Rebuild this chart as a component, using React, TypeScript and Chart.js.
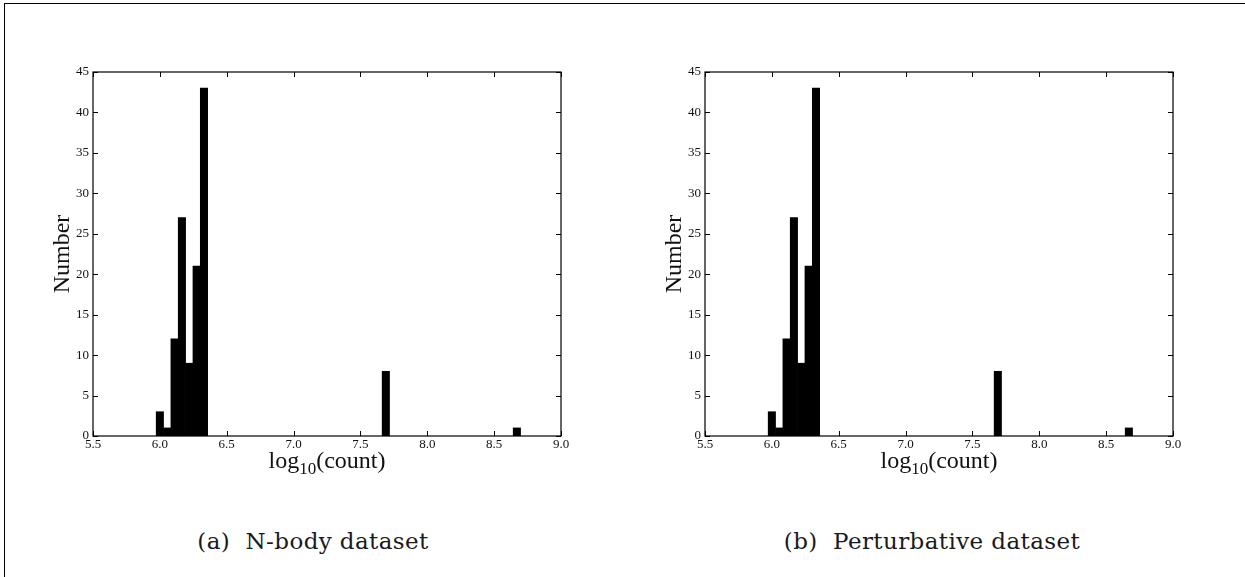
import React, { useEffect, useRef } from "react";
import { Chart, registerables } from "chart.js";

Chart.register(...registerables);

// Histogram bins (centres in log10(count)) and their counts
const binCenters = [6.0, 6.055, 6.11, 6.165, 6.22, 6.275, 6.33, 7.69, 8.67];
const nbodyCounts = [3, 1, 12, 27, 9, 21, 43, 8, 1];
const perturbativeCounts = [3, 1, 12, 27, 9, 21, 43, 8, 1];

// Axis ranges and labels
const xRange = [5.5, 9.0];
const xStep = 0.5;
const yRange = [0, 45];
const yStep = 5;
const yTitle = "Number";
const xTitleParts = ["log", "10", "(count)"];
const captions = ["(a)  N-body dataset", "(b)  Perturbative dataset"];

const SERIF = "'Liberation Serif', 'DejaVu Serif', serif";

// Draws the boxed frame, inward ticks on all four sides and the subscripted x title
const frameAndTicks = {
  id: "frameAndTicks",
  afterDatasetsDraw(chart: any) {
    const { ctx, chartArea } = chart;
    const { left, right, top, bottom } = chartArea;
    const xs = chart.scales.x;
    const ys = chart.scales.y;
    const len = 5;
    ctx.save();
    ctx.strokeStyle = "#000";
    ctx.lineWidth = 1.2;
    ctx.strokeRect(left, top, right - left, bottom - top);
    ctx.lineWidth = 1;
    ctx.beginPath();
    xs.ticks.forEach((t: any) => {
      const px = Math.round(xs.getPixelForValue(t.value)) + 0.5;
      ctx.moveTo(px, bottom);
      ctx.lineTo(px, bottom - len);
      ctx.moveTo(px, top);
      ctx.lineTo(px, top + len);
    });
    ys.ticks.forEach((t: any) => {
      const py = Math.round(ys.getPixelForValue(t.value)) + 0.5;
      ctx.moveTo(left, py);
      ctx.lineTo(left + len, py);
      ctx.moveTo(right, py);
      ctx.lineTo(right - len, py);
    });
    ctx.stroke();

    // x-axis title: log_10(count)
    const big = `24px ${SERIF}`;
    const small = `17px ${SERIF}`;
    ctx.fillStyle = "#111";
    ctx.textBaseline = "alphabetic";
    ctx.textAlign = "left";
    ctx.font = big;
    const w0 = ctx.measureText(xTitleParts[0]).width;
    const w2 = ctx.measureText(xTitleParts[2]).width;
    ctx.font = small;
    const w1 = ctx.measureText(xTitleParts[1]).width;
    const total = w0 + w1 + w2;
    let cx = (left + right) / 2 - total / 2;
    const base = bottom + 32;
    ctx.font = big;
    ctx.fillText(xTitleParts[0], cx, base);
    cx += w0;
    ctx.font = small;
    ctx.fillText(xTitleParts[1], cx, base + 6);
    cx += w1;
    ctx.font = big;
    ctx.fillText(xTitleParts[2], cx, base);
    ctx.restore();
  },
};

function HistogramPanel({ counts, offsetX }: { counts: number[]; offsetX: number }) {
  const ref = useRef<HTMLCanvasElement>(null);

  useEffect(() => {
    if (!ref.current) return;
    const chart = new Chart(ref.current, {
      type: "bar",
      data: {
        datasets: [
          {
            data: binCenters.map((x, i) => ({ x, y: counts[i] })),
            backgroundColor: "#000",
            borderWidth: 0,
            barPercentage: 1,
            categoryPercentage: 1,
          },
        ],
      },
      options: {
        animation: false,
        responsive: false,
        devicePixelRatio: 1,
        layout: { padding: { top: 72, right: 59, left: 0, bottom: 0 } },
        plugins: {
          legend: { display: false },
          tooltip: { enabled: false },
        },
        scales: {
          x: {
            type: "linear",
            min: xRange[0],
            max: xRange[1],
            offset: false,
            grid: { display: false, offset: false, drawTicks: false, tickLength: 0 },
            border: { display: false },
            ticks: {
              stepSize: xStep,
              padding: 1,
              color: "#111",
              font: { family: SERIF, size: 13 },
              maxRotation: 0,
              callback: (v: any) => Number(v).toFixed(1),
            },
            afterFit: (s: any) => {
              s.height = 44;
            },
          },
          y: {
            type: "linear",
            min: yRange[0],
            max: yRange[1],
            grid: { display: false, drawTicks: false, tickLength: 0 },
            border: { display: false },
            ticks: {
              stepSize: yStep,
              padding: 4,
              color: "#111",
              font: { family: SERIF, size: 13 },
            },
            title: {
              display: true,
              text: yTitle,
              color: "#111",
              font: { family: SERIF, size: 24 },
              padding: { top: 48, bottom: 0 },
            },
            afterFit: (s: any) => {
              s.width = 93;
            },
          },
        },
      } as any,
      plugins: [frameAndTicks],
    });
    return () => chart.destroy();
  }, [counts]);

  return (
    <canvas
      ref={ref}
      width={620}
      height={480}
      style={{ position: "absolute", left: offsetX, top: 0, width: 620, height: 480 }}
    />
  );
}

const captionStyle: React.CSSProperties = {
  position: "absolute",
  top: 530,
  width: 400,
  textAlign: "center",
  fontFamily: "'DejaVu Serif', serif",
  fontSize: 23,
  lineHeight: "22px",
  letterSpacing: "0.4px",
  whiteSpace: "pre",
  color: "#1a1a1a",
};

export default function App() {
  return (
    <div
      style={{
        position: "absolute",
        left: 0,
        top: 0,
        width: 1245,
        height: 577,
        background: "#fff",
        overflow: "hidden",
      }}
    >
      <div
        style={{
          position: "absolute",
          left: 4,
          top: 3,
          width: 1245,
          height: 580,
          borderTop: "1.5px solid #000",
          borderLeft: "1.5px solid #000",
        }}
      />
      <HistogramPanel counts={nbodyCounts} offsetX={0} />
      <HistogramPanel counts={perturbativeCounts} offsetX={612} />
      <div style={{ ...captionStyle, left: 313 - 200 }}>{captions[0]}</div>
      <div style={{ ...captionStyle, left: 932 - 200 }}>{captions[1]}</div>
    </div>
  );
}
